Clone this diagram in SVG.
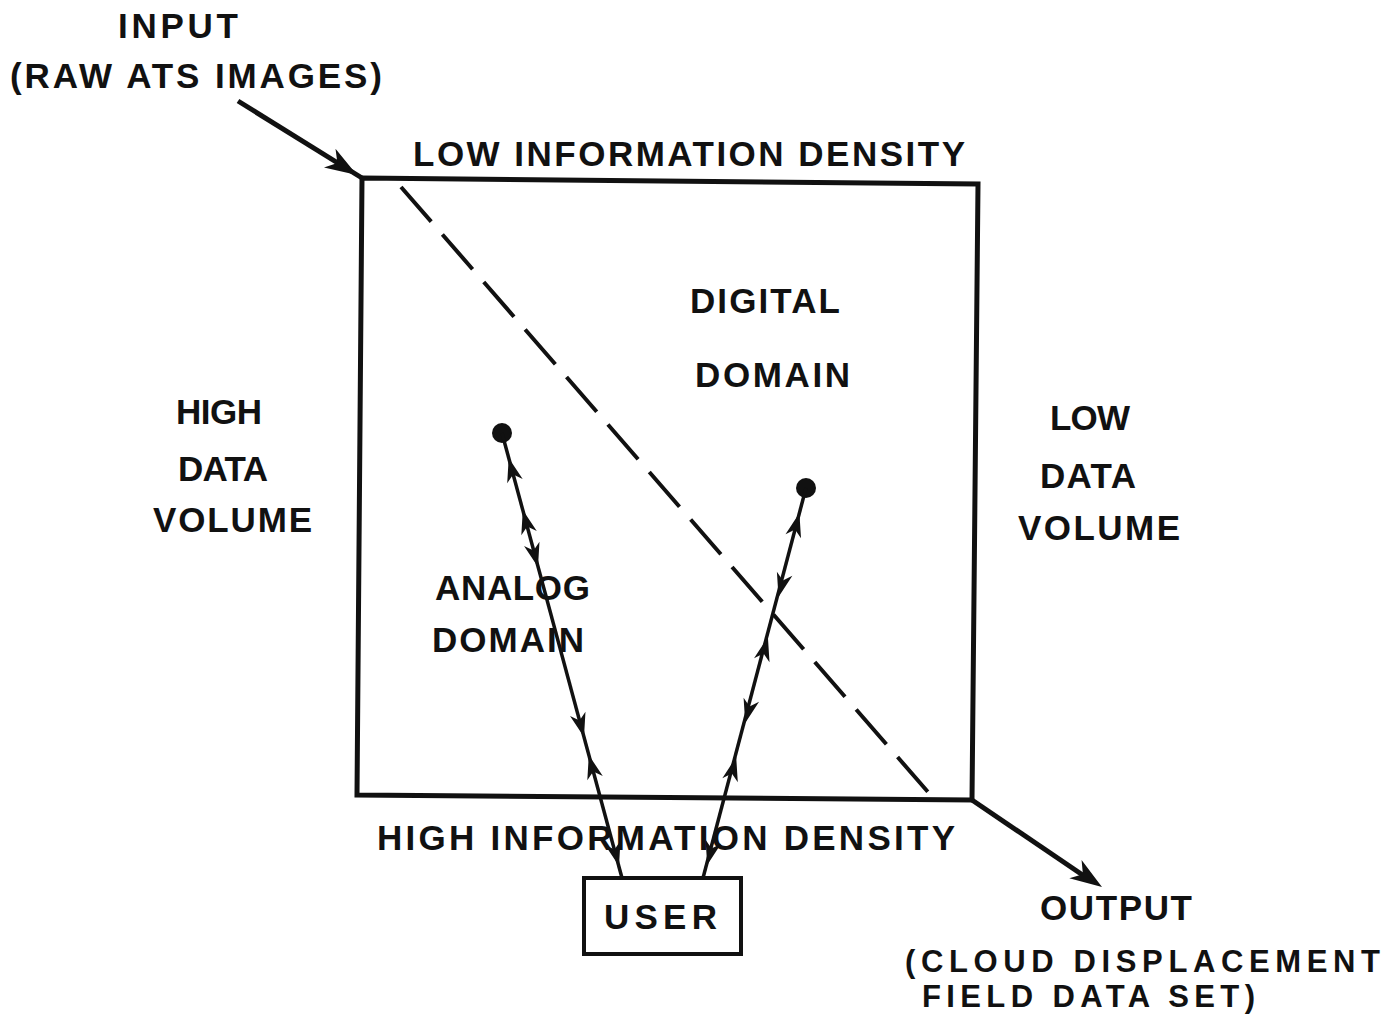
<svg xmlns="http://www.w3.org/2000/svg" width="1396" height="1014" viewBox="0 0 1396 1014">
<style>
text{font-family:"Liberation Sans",Arial,sans-serif;font-weight:bold;font-size:35px;fill:#111}
text.sm{font-size:31px}
.box{fill:none;stroke:#111;stroke-width:5;stroke-linejoin:miter}
.ln{fill:none;stroke:#111;stroke-width:3.5}
.dash{fill:none;stroke:#111;stroke-width:4;stroke-dasharray:46 17}
.ah{fill:#111}
</style>
<defs>
<path id="ah" d="M0,0 L-24,-8 L-17,0 L-24,8 Z"/>
<path id="ahL" d="M0,0 L-32,-11 L-23,0 L-32,11 Z"/>
</defs>
<rect width="1396" height="1014" fill="#fff"/>
<g id="main-box">
<polygon class="box" points="362,178 978,184 972,800 357,795"/>
</g>
<g id="user">
<rect class="box" x="584" y="878" width="157" height="76" style="stroke-width:4"/>
<text x="604" y="929" textLength="113" lengthAdjust="spacing">USER</text>
</g>
<g id="labels">
<text x="118" y="38" textLength="120" lengthAdjust="spacing">INPUT</text>
<text x="10" y="88" textLength="372" lengthAdjust="spacing">(RAW ATS IMAGES)</text>
<text x="413" y="166" textLength="552" lengthAdjust="spacing">LOW INFORMATION DENSITY</text>
<text x="690" y="313" textLength="150" lengthAdjust="spacing">DIGITAL</text>
<text x="695" y="387" textLength="155" lengthAdjust="spacing">DOMAIN</text>
<text x="176" y="424" textLength="86" lengthAdjust="spacing">HIGH</text>
<text x="178" y="481" textLength="90" lengthAdjust="spacing">DATA</text>
<text x="153" y="532" textLength="159" lengthAdjust="spacing">VOLUME</text>
<text x="1050" y="430" textLength="80" lengthAdjust="spacing">LOW</text>
<text x="1040" y="488" textLength="96" lengthAdjust="spacing">DATA</text>
<text x="1018" y="540" textLength="162" lengthAdjust="spacing">VOLUME</text>
<text x="435" y="600" textLength="155" lengthAdjust="spacing">ANALOG</text>
<text x="432" y="652" textLength="152" lengthAdjust="spacing">DOMAIN</text>
<text x="377" y="850" textLength="578" lengthAdjust="spacing">HIGH INFORMATION DENSITY</text>
<text x="1040" y="920" textLength="152" lengthAdjust="spacing">OUTPUT</text>
<text class="sm" x="905" y="972" textLength="475" lengthAdjust="spacing">(CLOUD DISPLACEMENT</text>
<text class="sm" x="922" y="1007" textLength="333" lengthAdjust="spacing">FIELD DATA SET)</text>
</g>
<g id="connectors">
<line class="dash" x1="401" y1="187" x2="928" y2="792"/>
<line class="ln" x1="238" y1="101" x2="362" y2="178" style="stroke-width:5"/>
<use href="#ahL" class="ah" transform="translate(357,175) rotate(31.6)"/>
<line class="ln" x1="972" y1="800" x2="1090" y2="880" style="stroke-width:5"/>
<use href="#ahL" class="ah" transform="translate(1102,887) rotate(33.9)"/>
<circle cx="502" cy="433" r="10" fill="#111"/>
<line class="ln" x1="502" y1="433" x2="622" y2="878"/>
<use href="#ah" class="ah" transform="translate(508.7,458) rotate(-105.09)"/>
<use href="#ah" class="ah" transform="translate(522.8,510) rotate(-105.09)"/>
<use href="#ah" class="ah" transform="translate(538,567) rotate(74.91)"/>
<use href="#ah" class="ah" transform="translate(584,737) rotate(74.91)"/>
<use href="#ah" class="ah" transform="translate(588.8,755) rotate(-105.09)"/>
<use href="#ah" class="ah" transform="translate(619,866) rotate(74.91)"/>
<circle cx="806" cy="488" r="10" fill="#111"/>
<line class="ln" x1="806" y1="488" x2="703" y2="878"/>
<use href="#ah" class="ah" transform="translate(799.4,513) rotate(-75.21)"/>
<use href="#ah" class="ah" transform="translate(778.5,597) rotate(104.79)"/>
<use href="#ah" class="ah" transform="translate(767.9,637) rotate(-75.21)"/>
<use href="#ah" class="ah" transform="translate(745.2,723) rotate(104.79)"/>
<use href="#ah" class="ah" transform="translate(736.2,757) rotate(-75.21)"/>
<use href="#ah" class="ah" transform="translate(707.2,865) rotate(104.79)"/>
</g>
</svg>
